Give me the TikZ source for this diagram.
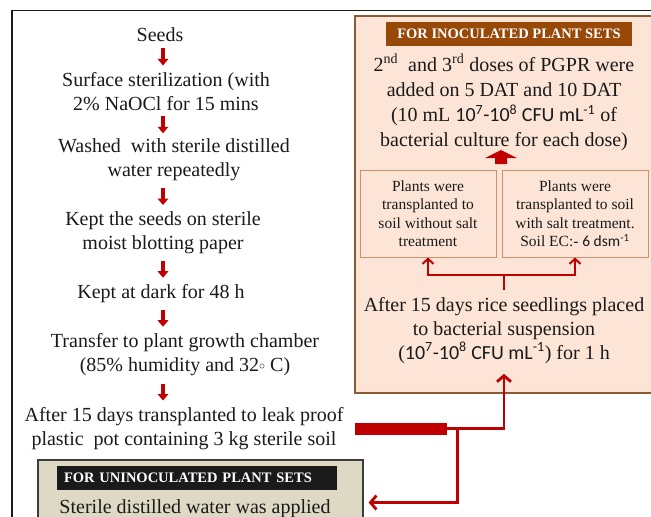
\documentclass[tikz,border=0pt]{standalone}
\usepackage{fontspec}
\setmainfont{Liberation Serif}
\newfontfamily\cf{Carlito}
\usetikzlibrary{arrows.meta,calc}
\definecolor{myred}{HTML}{C00000}
\definecolor{peach}{HTML}{FCE5D6}
\definecolor{boxbrown}{HTML}{8C5A32}
\definecolor{lightbrown}{HTML}{C8936A}
\definecolor{titlebrown}{HTML}{984807}
\definecolor{khaki}{HTML}{DDD9C4}
\definecolor{ink}{HTML}{1A1A1A}
\newcommand{\smallring}{\raisebox{0.12em}{\fontsize{13}{13}\selectfont$\circ$}}
\tikzset{
  txt/.style={font=\fontsize{20}{24}\selectfont, align=center, inner sep=0pt, text=ink},
  titlebar/.style={font=\fontsize{14.5}{16}\selectfont\bfseries, text=white, inner sep=0pt, minimum height=24pt},
  smallbox/.style={draw=lightbrown, line width=1pt, fill=peach, inner sep=0pt, align=center,
    font=\fontsize{15.5}{18.5}\selectfont, text=ink, minimum height=87pt},
  downarr/.style={draw=myred, line width=3.2pt, -{Triangle[length=6.5pt,width=10.5pt]}},
  redthin/.style={draw=myred, line width=2pt},
  redthick/.style={draw=myred, line width=2.8pt}
}
\begin{document}
\begin{tikzpicture}[x=1pt,y=-1pt]
\clip (0,0) rectangle (651,517);
\fill[white] (0,0) rectangle (651,517);
% outer frame
\draw[line width=1.8pt, ink] (12,530) -- (12,10.5) -- (660,10.5);

% left column
\node[txt] (seeds) at (160,34.5) {Seeds};
\node[txt] (s1) at (166,91.5) {Surface sterilization (with\\2\% NaOCl for 15 mins};
\node[txt] (s2) at (174,160) {Washed~~with sterile distilled\\water repeatedly};
\node[txt] (s3) at (163,233) {Kept the seeds on sterile\\moist blotting paper};
\node[txt] (s4) at (161,293.5) {Kept at dark for 48 h};
\node[txt] (s5) at (185,355) {Transfer to plant growth chamber\\(85\% humidity and 32\smallring{} C)};
\node[txt] (s6) at (184,429) {After 15 days transplanted to leak proof\\plastic~~pot containing 3 kg sterile soil};

\coordinate (ax) at (163,0);
\foreach \a/\b/\m in {seeds/s1/m1, s1/s2/m2, s2/s3/m3, s3/s4/m4, s4/s5/m5, s5/s6/m6}{
  \coordinate (\m) at ($(\a.south)!0.5!(\b.north)$);
  \draw[downarr] ($(\m -| ax)+(0,-8.5)$) -- ($(\m -| ax)+(0,8.5)$);
}

% inoculated box
\node[draw=boxbrown, line width=1.6pt, fill=peach, anchor=north west,
  minimum width=330pt, minimum height=377pt, inner sep=0pt] (inoc) at (354,15) {};
\node[titlebar, fill=titlebrown, minimum width=246pt] (ititle) at (509,34) {FOR INOCULATED PLANT SETS};
\node[txt, font=\fontsize{20}{25.3}\selectfont] (doses) at (504,102.5)
  {2\textsuperscript{nd}~~and 3\textsuperscript{rd} doses of PGPR were\\
   added on 5 DAT and 10 DAT\\
   (10 mL {\cf 10\textsuperscript{7}-10\textsuperscript{8} CFU mL\textsuperscript{-1}} of\\
   bacterial culture for each dose)};

\node[smallbox, minimum width=136pt] (lbox) at (428,213.5)
  {Plants were\\transplanted to\\soil without salt\\treatment};
\node[smallbox, minimum width=146pt] (rbox) at (575,213.5)
  {Plants were\\transplanted to soil\\with salt treatment.\\Soil EC:- {\cf 6 dsm\textsuperscript{-1}}};

% block arrow up
\coordinate (ua) at (501,157);
\fill[myred] (ua) ++(-6,7) -- ++(0,-6) -- ++(-10,0) -- ++(16,-8) -- ++(16,8) -- ++(-10,0) -- ++(0,6) -- cycle;

\node[txt] (rice) at (504,330.5)
  {After 15 days rice seedlings placed\\to bacterial suspension\\
   ({\cf 10\textsuperscript{7}-10\textsuperscript{8} CFU mL\textsuperscript{-1}}) for 1 h};

% branch to small boxes
\draw[redthin] ([yshift=7pt]rice.north) -- ++(0,-15) coordinate (br);
\draw[redthin, -{Straight Barb[length=5pt,width=11pt]}] (br) -| (lbox.south);
\draw[redthin, -{Straight Barb[length=5pt,width=11pt]}] (br) -| (rbox.south);

% uninoculated box
\node[draw=ink!85, line width=1.6pt, fill=khaki, anchor=north west,
  minimum width=325pt, minimum height=90pt, inner sep=0pt] (unin) at (37,459) {};
\node[titlebar, fill=ink, text width=266pt, inner xsep=7pt, align=left] (utitle) at (197,478)
  {FOR UNINOCULATED PLANT SETS};
\node[txt] (water) at (195,508.5) {Sterile distilled water was applied};

% thick bar and connectors
\node[fill=myred, minimum width=92pt, minimum height=12pt, inner sep=0pt] (bar) at (401,428.5) {};
\draw[redthick, -{Straight Barb[length=6pt,width=14pt]}] (bar.east) -| ([yshift=-10pt]rice.south);
\coordinate (j) at ($(bar.east)+(10,0)$);
\draw[redthick, -{Straight Barb[length=6pt,width=14pt]}] (j) |- ($(unin.east |- water)+(5,-6)$);
\end{tikzpicture}
\end{document}
